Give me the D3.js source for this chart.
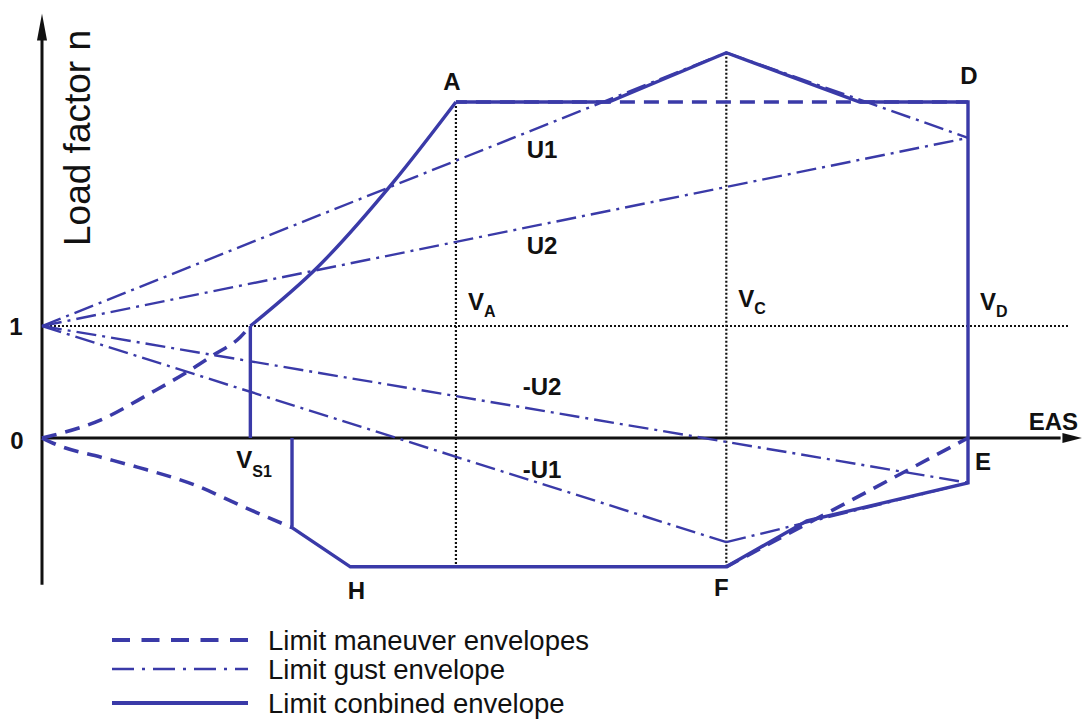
<!DOCTYPE html>
<html>
<head>
<meta charset="utf-8">
<script src="https://cdn.jsdelivr.net/npm/d3@7"></script>
<style>
  body { margin: 0; background: #fff; }
  svg { display: block; }
  text { font-family: Arial, "Liberation Sans", sans-serif; fill: #111; }
  .lbl { font-weight: bold; font-size: 24px; }
  .sub { font-weight: bold; font-size: 16px; }
</style>
</head>
<body>
<div id="chart"></div>
<script>
// speeds (EAS, VD = 100) and load factors
const vS1 = 22.5, vS1neg = 27, vH = 33.3, vA = 44.7, vC = 73.9, vD = 100;
const nPos = 3, nNeg = -1.15;

// maneuver envelope pieces (dashed)
const stallPos = [[0, 0], [6.3, 0.16], [11.7, 0.40], [15.7, 0.59], [18.5, 0.74], [21.4, 0.90], [22.5, 1.0]];
const stallNeg = [[0, 0], [1.9, -0.07], [6.3, -0.17], [10.3, -0.26], [16.5, -0.42], [21.9, -0.62], [27, -0.80]];
const maneuverTop = [[vA, nPos], [vD, nPos]];
const maneuverEF = [[vD, 0], [vC, nNeg]];

// gust lines (dash-dot)
const gustU1 = [[0, 1], [vC, 3.44]];
const gustU2 = [[0, 1], [vD, 2.68]];
const gustTop = [[vC, 3.44], [vD, 2.68]];
const gustNegU1 = [[0, 1], [vC, -0.93]];
const gustNegU2 = [[0, 1], [vD, -0.40]];
const gustBottom = [[vC, -0.93], [vD, -0.40]];

// combined envelope (solid)
const combStall = [[vS1, 1], [29.7, 1.52], [37.9, 2.28], [vA, nPos]];
const combRest = [[vA, nPos], [61.2, nPos], [vC, 3.44], [88.3, nPos], [vD, nPos], [vD, -0.40],
  [82.6, -0.74], [vC, nNeg], [vH, nNeg], [vS1neg, -0.80], [vS1neg, 0]];
const combStart = [[vS1, 0], [vS1, 1]];

const pointLabels = [
  { t: "A", v: vA, n: nPos, dx: -4, dy: -12 },
  { t: "D", v: vD, n: nPos, dx: 1, dy: -18 },
  { t: "E", v: vD, n: 0, dx: 15, dy: 32 },
  { t: "F", v: vC, n: nNeg, dx: -5, dy: 29 },
  { t: "H", v: vH, n: nNeg, dx: 6, dy: 32 },
  { t: "U1", v: 54, n: 2.5, dx: 0, dy: 0 },
  { t: "U2", v: 54, n: 1.64, dx: 0, dy: 0 },
  { t: "-U2", v: 54, n: 0.38, dx: 0, dy: 0 },
  { t: "-U1", v: 54, n: -0.36, dx: 0, dy: 0 }
];
const speedLabels = [
  { v: vA, sub: "A", y: 310 },
  { v: vC, sub: "C", y: 307 },
  { v: vD, sub: "D", y: 310 }
];
const legendItems = [
  { text: "Limit maneuver envelopes", kind: "dash" },
  { text: "Limit gust envelope", kind: "gust" },
  { text: "Limit conbined envelope", kind: "solid" }
];

const width = 1082, height = 722;
const blue = "#3a3aa8";

const x = d3.scaleLinear().domain([0, 100]).range([42, 968]);
const y = d3.scaleLinear().domain([0, 3]).range([438, 102]);

const svg = d3.select("#chart").append("svg")
  .attr("width", width).attr("height", height);

const line = d3.line().x(d => x(d[0])).y(d => y(d[1]));
const curve = d3.line().x(d => x(d[0])).y(d => y(d[1])).curve(d3.curveMonotoneX);

// dotted guides
const dotted = svg.append("g").attr("stroke", "#111").attr("stroke-width", 2.2)
  .attr("stroke-dasharray", "2,2").attr("fill", "none");
dotted.append("line").attr("x1", x(0)).attr("x2", x(111)).attr("y1", y(1)).attr("y2", y(1));
dotted.append("line").attr("x1", x(vA)).attr("x2", x(vA)).attr("y1", y(nPos)).attr("y2", y(nNeg));
dotted.append("line").attr("x1", x(vC)).attr("x2", x(vC)).attr("y1", y(3.44)).attr("y2", y(nNeg));

// axes with arrows
const ax = svg.append("g");
ax.append("line").attr("x1", x(0)).attr("x2", x(0)).attr("y1", y(-1.31)).attr("y2", y(3.6))
  .attr("stroke", "#111").attr("stroke-width", 3);
ax.append("path").attr("fill", "#111")
  .attr("d", `M${x(0)},${y(3.79)} L${x(0) - 5},${y(3.55)} L${x(0) + 5},${y(3.55)} Z`);
ax.append("line").attr("x1", x(0)).attr("x2", x(110)).attr("y1", y(0)).attr("y2", y(0))
  .attr("stroke", "#111").attr("stroke-width", 3);
ax.append("path").attr("fill", "#111")
  .attr("d", `M${x(112.3)},${y(0)} L${x(110.2)},${y(0) - 5} L${x(110.2)},${y(0) + 5} Z`);

// gust lines
const gust = svg.append("g").attr("stroke", blue).attr("stroke-width", 2.4)
  .attr("stroke-dasharray", "20,6,3,6").attr("fill", "none");
[gustU1, gustU2, gustTop, gustNegU1, gustNegU2, gustBottom].forEach(p =>
  gust.append("path").attr("d", line(p)));

// maneuver envelope
const man = svg.append("g").attr("stroke", blue).attr("stroke-width", 3.6)
  .attr("stroke-dasharray", "15,9").attr("fill", "none");
man.append("path").attr("d", curve(stallPos));
man.append("path").attr("d", curve(stallNeg));
man.append("path").attr("d", line(maneuverTop)).attr("stroke-dashoffset", 4);
man.append("path").attr("d", line(maneuverEF)).attr("stroke-dashoffset", 4);

// combined envelope
const comb = svg.append("g").attr("stroke", blue).attr("stroke-width", 3.4)
  .attr("fill", "none").attr("stroke-linejoin", "miter");
comb.append("path").attr("d", line(combStart));
comb.append("path").attr("d", curve(combStall));
comb.append("path").attr("d", line(combRest));

// texts
svg.append("text").attr("transform", `translate(90,138) rotate(-90)`)
  .attr("text-anchor", "middle").attr("font-size", 37).text("Load factor n");
svg.append("text").attr("class", "lbl").attr("x", 16).attr("y", y(1) + 9)
  .attr("text-anchor", "middle").text("1");
svg.append("text").attr("class", "lbl").attr("x", 17).attr("y", y(0) + 11)
  .attr("text-anchor", "middle").text("0");
svg.append("text").attr("class", "lbl").attr("x", 1078).attr("y", 430)
  .attr("text-anchor", "end").attr("font-size", 25).text("EAS");

pointLabels.forEach(d => {
  svg.append("text").attr("class", "lbl")
    .attr("x", x(d.v) + d.dx).attr("y", y(d.n) + d.dy)
    .attr("text-anchor", "middle").text(d.t);
});

speedLabels.forEach(d => {
  const t = svg.append("text").attr("class", "lbl").attr("x", x(d.v) + 12).attr("y", d.y);
  t.append("tspan").text("V");
  t.append("tspan").attr("class", "sub").attr("dy", 7).text(d.sub);
});
const vs = svg.append("text").attr("class", "lbl").attr("x", x(vS1) - 14).attr("y", 468);
vs.append("tspan").text("V");
vs.append("tspan").attr("class", "sub").attr("dy", 9).text("S1");

// legend
const lg = svg.append("g");
legendItems.forEach((d, i) => {
  const ly = [640, 669, 703][i];
  const l = lg.append("line").attr("x1", 112).attr("x2", 248).attr("y1", ly).attr("y2", ly)
    .attr("stroke", blue);
  if (d.kind === "dash") l.attr("stroke-width", 4).attr("stroke-dasharray", "18,11.5");
  else if (d.kind === "gust") l.attr("stroke-width", 2.6).attr("stroke-dasharray", "22,8,3,8");
  else l.attr("stroke-width", 4);
  lg.append("text").attr("x", 268).attr("y", ly + 10).attr("font-size", 27.5).text(d.text);
});
</script>
</body>
</html>
